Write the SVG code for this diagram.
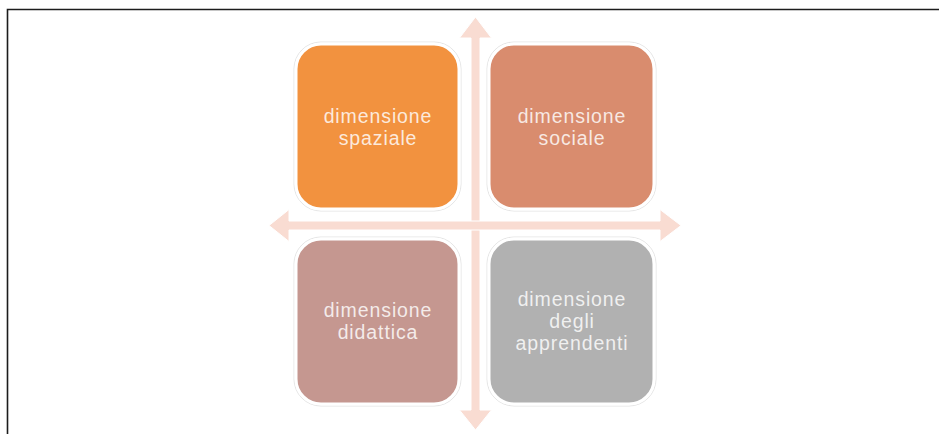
<svg xmlns="http://www.w3.org/2000/svg" width="939" height="434" viewBox="0 0 939 434">
<style>
.box{stroke:#ffffff;stroke-width:3}
.halo{fill:none;stroke:#e4e4e4;stroke-width:1}
.lbl{font-family:"Liberation Sans",Arial,sans-serif;font-size:19.5px;letter-spacing:0.9px;fill:#ffffff;fill-opacity:0.82;text-anchor:middle}
.arr{fill:#f9dcd2;stroke:#ffffff;stroke-width:1}
</style>
<rect x="0" y="0" width="939" height="434" fill="#ffffff"/>
<path d="M7.5 434 V9.5 H939" fill="none" stroke="#1c1c1c" stroke-width="1.6"/>
<g id="connectors">
<polygon class="arr" points="475.5,17 491.5,38 480,38 480,410 491.5,410 475.5,430 459.5,410 471,410 471,38 459.5,38"/>
<polygon class="arr" points="269,225.5 289,209.5 289,221 660,221 660,209.5 681,225.5 660,241.5 660,230 289,230 289,241.5"/>
</g>
<g id="spaziale">
<rect class="halo" x="294" y="42" width="167" height="169" rx="27"/>
<rect class="box" x="296" y="44" width="163" height="165" rx="25" fill="#f2923f"/>
<text class="lbl" x="378" y="123">dimensione</text>
<text class="lbl" x="378" y="145">spaziale</text>
</g>
<g id="sociale">
<rect class="halo" x="487" y="42" width="169" height="169" rx="27"/>
<rect class="box" x="489" y="44" width="165" height="165" rx="25" fill="#d98c6e"/>
<text class="lbl" x="572" y="123">dimensione</text>
<text class="lbl" x="572" y="145">sociale</text>
</g>
<g id="didattica">
<rect class="halo" x="294" y="237" width="167" height="169" rx="27"/>
<rect class="box" x="296" y="239" width="163" height="165" rx="25" fill="#c59790"/>
<text class="lbl" x="378" y="317">dimensione</text>
<text class="lbl" x="378" y="339">didattica</text>
</g>
<g id="apprendenti">
<rect class="halo" x="487" y="237" width="169" height="169" rx="27"/>
<rect class="box" x="489" y="239" width="165" height="165" rx="25" fill="#b1b1b1"/>
<text class="lbl" x="572" y="306">dimensione</text>
<text class="lbl" x="572" y="328">degli</text>
<text class="lbl" x="572" y="350">apprendenti</text>
</g>
</svg>
